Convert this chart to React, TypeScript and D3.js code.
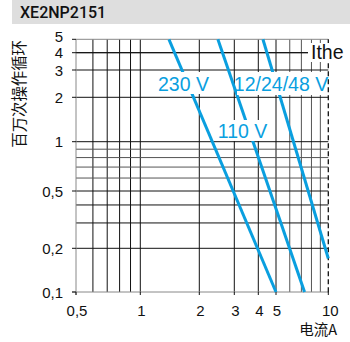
import React from "react";
import * as d3 from "d3";

const title = "XE2NP2151";
const yTitle = "百万次操作循环";
const xTitle = "电流A";

// axis calibration (tick values)
const xCal = [0.5, 1, 2, 3, 4, 5, 10];
const yCal = [0.1, 0.2, 0.5, 1, 2, 3, 4, 5];

const xTickValues = [0.5, 1, 2, 3, 4, 5, 10];
const xTickLabels = ["0,5", "1", "2", "3", "4", "5", "10"];
const yTickValues = [0.1, 0.2, 0.5, 1, 2, 3, 4, 5];
const yTickLabels = ["0,1", "0,2", "0,5", "1", "2", "3", "4", "5"];

const xGrid = [0.6, 0.7, 0.8, 0.9, 1, 2, 3, 4, 5, 6, 7, 8, 9];
const xGridLight = [6, 7, 8, 9];
const yGrid = [0.2, 0.3, 0.4, 0.5, 0.6, 0.7, 0.8, 0.9, 1, 2, 3, 4];
const yGridLight = [0.6, 0.7, 0.8, 0.9];

const seriesNames = ["230 V", "110 V", "12/24/48 V"];
const line230: [number, number][] = [[1.4, 5], [5, 0.1]];
const line110: [number, number][] = [[2.48, 5], [7.3, 0.1]];
const line12: [number, number][] = [[4.24, 5], [10, 0.17]];
const seriesLines = [line230, line110, line12];
const ithe = 10;

const BLUE = "#0a9fdf";
const FONT = "'Liberation Sans', Arial, sans-serif";
const CJK = "'Noto Sans CJK SC', sans-serif";

export default function App() {
  const xs = d3
    .scaleLinear()
    .domain(xCal.map(Math.log10))
    .range([76, 140.3, 199.3, 234.3, 258.3, 276, 328.3]);
  const ys = d3
    .scaleLinear()
    .domain(yCal.map(Math.log10))
    .range([292, 248.3, 191, 141.7, 97.3, 70, 52.7, 39.3]);
  const X = (v: number) => xs(Math.log10(v));
  const Y = (v: number) => ys(Math.log10(v));
  const x0 = X(0.5), x1 = X(10), y0 = Y(0.1), y1 = Y(5);

  const line = d3
    .line<[number, number]>()
    .x((d) => X(d[0]))
    .y((d) => Y(d[1]));

  const labelBoxes = [
    { text: seriesNames[0], cx: 183.5, by: 90.5, box: [155, 72, 57, 22] },
    { text: seriesNames[1], cx: 242.5, by: 138.3, box: [217, 120, 51, 21] },
    { text: seriesNames[2], cx: 281, by: 90.5, box: [237, 72, 89, 23] },
  ];

  return (
    <svg
      width={350}
      height={342}
      style={{ position: "absolute", left: 0, top: 0, background: "#fff" }}
      fontFamily={FONT}
    >
      <rect x={12} y={0} width={338} height={24} fill="#dedede" />
      <text x={20} y={18.3} fontSize={16} fontFamily="Roboto, sans-serif" fontWeight={500} fill="#111">
        {title}
      </text>

      {/* grid */}
      {xGrid.map((v) => (
        <line
          key={"xg" + v}
          x1={X(v)}
          x2={X(v)}
          y1={y1}
          y2={y0}
          stroke={xGridLight.includes(v) ? "#555" : "#111"}
          strokeWidth={1}
        />
      ))}
      {yGrid.map((v) => (
        <line
          key={"yg" + v}
          x1={x0}
          x2={x1}
          y1={Y(v)}
          y2={Y(v)}
          stroke={yGridLight.includes(v) ? "#555" : "#111"}
          strokeWidth={1}
        />
      ))}
      {/* borders */}
      <line x1={x0} x2={x0} y1={y1} y2={y0 + 3} stroke="#888" />
      <line x1={x0 - 4} x2={x1} y1={y0} y2={y0} stroke="#888" />
      <line x1={x0} x2={x1} y1={y1} y2={y1} stroke="#888" />
      <line
        x1={X(ithe)}
        x2={X(ithe)}
        y1={y1}
        y2={y0 + 3}
        stroke="#111"
        strokeWidth={1.3}
        strokeDasharray="5,3"
      />
      {/* ticks */}
      {yTickValues.map((v) => (
        <line key={"yt" + v} x1={x0 - 4} x2={x0} y1={Y(v)} y2={Y(v)} stroke="#111" />
      ))}
      {xTickValues.map((v) => (
        <line key={"xt" + v} x1={X(v)} x2={X(v)} y1={y0} y2={y0 + 3} stroke="#111" />
      ))}
      {/* extended 4 line to Ithe */}
      <line x1={x0} x2={X(ithe)} y1={Y(4)} y2={Y(4)} stroke="#111" />

      {/* series */}
      {seriesLines.map((pts, i) => (
        <path
          key={"s" + i}
          d={line(pts) || ""}
          fill="none"
          stroke={BLUE}
          strokeWidth={3}
        />
      ))}

      {/* labels */}
      {labelBoxes.map((l, i) => (
        <g key={"l" + i}>
          <rect x={l.box[0]} y={l.box[1]} width={l.box[2]} height={l.box[3]} fill="#fff" />
          <text x={l.cx} y={l.by} fontSize={19.5} fill={BLUE} textAnchor="middle">
            {l.text}
          </text>
        </g>
      ))}
      <rect x={308} y={43} width={38} height={19} fill="#fff" />
      <text x={311} y={59} fontSize={19.5} fill="#111">
        Ithe
      </text>

      {/* tick labels */}
      {yTickValues.map((v, i) => (
        <text
          key={"yl" + v}
          x={63}
          y={v === 5 ? Y(v) - 3 : Y(v)}
          fontSize={15}
          textAnchor="end"
          dominantBaseline="central"
          fill="#111"
        >
          {yTickLabels[i]}
        </text>
      ))}
      {xTickValues.map((v, i) => (
        <text
          key={"xl" + v}
          x={X(v) + (v === 10 ? 2 : 1)}
          y={315.5}
          fontSize={15}
          textAnchor="middle"
          fill="#111"
        >
          {xTickLabels[i]}
        </text>
      ))}

      <text
        transform="translate(25,40) rotate(-90)"
        fontFamily={CJK}
        fontSize={15.4}
        textAnchor="end"
        fill="#111"
      >
        {yTitle}
      </text>
      <text x={337} y={334.5} fontFamily={CJK} fontSize={14.5} textAnchor="end" fill="#111">
        {xTitle}
      </text>
    </svg>
  );
}
